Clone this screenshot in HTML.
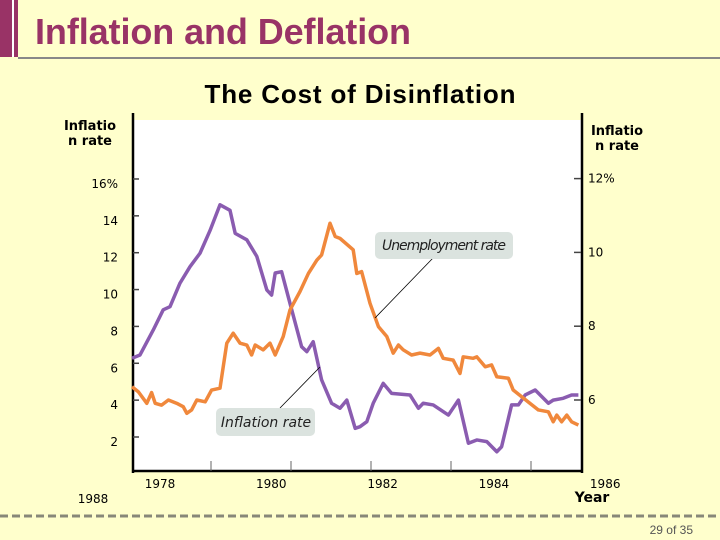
<!DOCTYPE html>
<html><head><meta charset="utf-8">
<style>
body{margin:0;background:#ffffcc;}
#wrap{position:relative;width:720px;height:540px;background:#ffffcc;overflow:hidden;font-family:"Liberation Sans",sans-serif;}
</style></head>
<body>
<div id="wrap">
<svg id="chart" width="720" height="540" style="position:absolute;left:0;top:0">
  <rect x="0" y="0" width="18" height="57" fill="#993366"/>
  <rect x="12" y="0" width="2" height="57" fill="#ffffff"/>
  <text x="35" y="44" font-size="36" font-weight="bold" fill="#993366" font-family="Liberation Sans, sans-serif" textLength="376">Inflation and Deflation</text>
  <rect x="18" y="57" width="702" height="2" fill="#888888"/>
  <text x="360" y="103" font-size="26" font-weight="bold" text-anchor="middle" font-family="Liberation Sans, sans-serif" textLength="311">The Cost of Disinflation</text>
  <rect x="132" y="120" width="450" height="351" fill="#ffffff"/>
  <line x1="133" y1="113" x2="133" y2="473" stroke="#000" stroke-width="2.5"/>
  <line x1="582" y1="113" x2="582" y2="473" stroke="#000" stroke-width="2.5"/>
  <line x1="132" y1="471" x2="583" y2="471" stroke="#000" stroke-width="2.5"/>
  <g font-size="13" font-weight="bold" font-family="DejaVu Sans, sans-serif" text-anchor="middle">
    <text x="90" y="130"><tspan x="90">Inflatio</tspan><tspan x="90" dy="15">n rate</tspan></text>
    <text x="617" y="135"><tspan x="617">Inflatio</tspan><tspan x="617" dy="15">n rate</tspan></text>
  </g>
  <text x="592" y="502" font-size="14" font-weight="bold" text-anchor="middle" font-family="DejaVu Sans, sans-serif">Year</text>
  <text x="93" y="503" font-size="12" text-anchor="middle" font-family="DejaVu Sans, sans-serif">1988</text>
  <g id="ticks" font-size="12" font-family="DejaVu Sans, sans-serif"></g>
  <g id="series"></g>
  <line x1="375" y1="318" x2="433" y2="258" stroke="#000" stroke-width="0.8"/>
  <line x1="280" y1="408" x2="320" y2="367" stroke="#000" stroke-width="0.8"/>
  <rect x="375" y="232" width="138" height="27" rx="5" fill="#dbe3df"/>
  <text x="444" y="250" font-size="14" font-style="italic" text-anchor="middle" fill="#222" font-family="DejaVu Sans, sans-serif" textLength="124">Unemployment rate</text>
  <rect x="216" y="408" width="99" height="28" rx="5" fill="#dbe3df"/>
  <text x="266" y="427" font-size="14" font-style="italic" text-anchor="middle" fill="#222" font-family="DejaVu Sans, sans-serif">Inflation rate</text>
  <line x1="0" y1="516" x2="720" y2="516" stroke="#888878" stroke-width="3" stroke-dasharray="8,4"/>
  <text x="693" y="534" font-size="12" text-anchor="end" fill="#555" font-family="Liberation Sans, sans-serif">29 of 35</text>
</svg>
</div>
<script>
const leftTicks = [2, 4, 6, 8, 10, 12, 14, 16];
const leftTickLabels = ["2", "4", "6", "8", "10", "12", "14", "16%"];
const rightTicks = [6, 8, 10, 12];
const rightTickLabels = ["6", "8", "10", "12%"];
const xTickYears = [1978, 1980, 1982, 1984, 1986];
const xTickLabels = ["1978", "1980", "1982", "1984", "1986"];
const inflYears = [1976.0,1976.2,1976.53,1976.78,1976.95,1977.2,1977.45,1977.7,1977.95,1978.2,1978.45,1978.58,1978.87,1979.12,1979.37,1979.49,1979.58,1979.74,1979.95,1980.24,1980.37,1980.53,1980.74,1980.99,1981.2,1981.37,1981.58,1981.7,1981.87,1982.03,1982.28,1982.49,1982.95,1983.16,1983.28,1983.53,1983.91,1984.16,1984.41,1984.62,1984.87,1985.12,1985.24,1985.49,1985.66,1985.83,1986.08,1986.41,1986.53,1986.78,1986.99,1987.16];
const inflValues = [6.27,6.45,7.8,8.9,9.07,10.35,11.24,11.97,13.2,14.6,14.3,13.05,12.7,11.8,9.98,9.7,10.9,10.97,9.25,6.9,6.63,7.17,5.1,3.83,3.56,4.0,2.47,2.56,2.83,3.83,4.91,4.37,4.28,3.56,3.83,3.74,3.19,4.0,1.66,1.84,1.75,1.2,1.47,3.74,3.74,4.28,4.55,3.83,4.0,4.1,4.28,4.28];
const unempYears = [1976.0,1976.16,1976.37,1976.49,1976.58,1976.74,1976.91,1977.12,1977.28,1977.37,1977.49,1977.62,1977.83,1977.99,1978.2,1978.37,1978.53,1978.7,1978.87,1978.99,1979.08,1979.28,1979.45,1979.58,1979.78,1979.95,1980.2,1980.41,1980.62,1980.74,1980.95,1981.08,1981.2,1981.53,1981.62,1981.74,1981.95,1982.16,1982.37,1982.53,1982.66,1982.78,1982.99,1983.2,1983.45,1983.66,1983.78,1984.03,1984.2,1984.28,1984.53,1984.62,1984.83,1984.99,1985.12,1985.41,1985.53,1985.95,1986.16,1986.41,1986.53,1986.62,1986.74,1986.87,1986.99,1987.16];
const unempValues = [6.36,6.22,5.91,6.2,5.91,5.86,6.0,5.91,5.82,5.64,5.73,6.0,5.95,6.27,6.32,7.54,7.81,7.54,7.49,7.22,7.49,7.36,7.54,7.22,7.72,8.44,8.94,9.43,9.79,9.93,10.79,10.43,10.38,10.07,9.43,9.48,8.62,7.99,7.72,7.27,7.49,7.36,7.22,7.27,7.22,7.4,7.13,7.08,6.72,7.17,7.13,7.17,6.9,6.95,6.63,6.59,6.27,5.91,5.73,5.68,5.41,5.59,5.41,5.59,5.41,5.32];

const NS = "http://www.w3.org/2000/svg";
function xScale(t){ return 132 + (t - 1976) * 40; }
function yLeft(v){ return 437 - (v - 2) * 18.43; }
function yRight(u){ return 400 - (u - 6) * 36.9; }
function mk(tag, attrs, parent){
  const e = document.createElementNS(NS, tag);
  for (const k in attrs) e.setAttribute(k, attrs[k]);
  parent.appendChild(e);
  return e;
}
const ticks = document.getElementById('ticks');
leftTicks.forEach((v, i) => {
  const y = yLeft(v);
  const l = mk('line', {x1:133, x2:139, y1:y, y2:y, stroke:'#444', 'stroke-width':1.5}, ticks);
  
  
  const t = mk('text', {x:118, y:y+9, 'text-anchor':'end'}, ticks);
  t.textContent = leftTickLabels[i];
  
  
});
rightTicks.forEach((v, i) => {
  const y = yRight(v);
  const l = mk('line', {x1:574, x2:581, y1:y, y2:y, stroke:'#444', 'stroke-width':1.5}, ticks);
  
  
  const t = mk('text', {x:588, y:y+4, 'text-anchor':'start'}, ticks);
  t.textContent = rightTickLabels[i];
  
  
});
xTickYears.forEach((yr, i) => {
  const x = xScale(yr) - 1;
  const l = mk('line', {x1:x, x2:x, y1:461, y2:471, stroke:'#666', 'stroke-width':1}, ticks);
  
  
  const t = mk('text', {x:160 + i * 111.3, y:488, 'text-anchor':'middle'}, ticks);
  t.textContent = xTickLabels[i];
  
  
});
const series = document.getElementById('series');
const pI = mk('polyline', {points: inflYears.map((t, i) => xScale(t) + ',' + yLeft(inflValues[i])).join(' '), fill:'none', stroke:'#8a5cb0', 'stroke-width':3.5, 'stroke-linejoin':'round'}, series);


const pU = mk('polyline', {points: unempYears.map((t, i) => xScale(t) + ',' + yRight(unempValues[i])).join(' '), fill:'none', stroke:'#f0883c', 'stroke-width':3.5, 'stroke-linejoin':'round'}, series);


</script>
</body></html>
